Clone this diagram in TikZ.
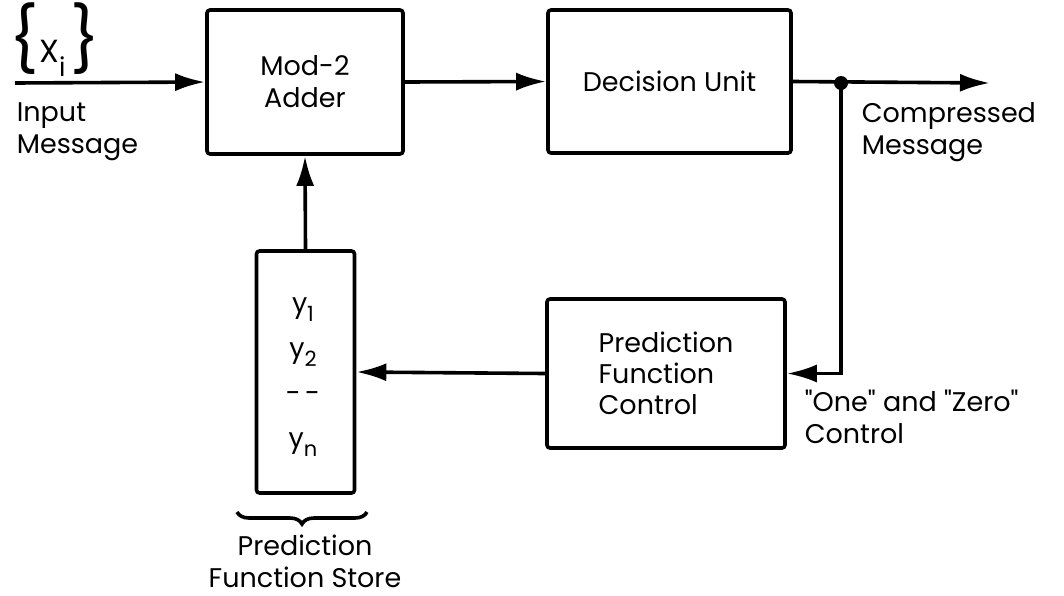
\documentclass[tikz,border=0pt]{standalone}
\usepackage{fontspec}
\setmainfont{Poppins}
\usepackage{tikz}
\usetikzlibrary{arrows.meta, positioning, calc, decorations.pathreplacing}

\newcommand{\lowsub}[1]{\raisebox{-4.5pt}{\fontsize{10.5}{10.5}\selectfont #1}}

\begin{document}
\begin{tikzpicture}[x=0.5pt, y=-0.5pt, line width=1.8pt,
    every node/.style={font=\fontsize{13.5}{16}\selectfont},
    block/.style={draw, line width=1.8pt, rounded corners=1.5pt, inner sep=0pt},
    flow/.style={-{Latex[length=15pt, width=9pt]}},
    lbl/.style={align=left, anchor=north west, inner sep=0pt}]
  \useasboundingbox (0,0) rectangle (1064,595);
  % boxes
  \node[block, minimum width=98pt, minimum height=72pt, align=center] (adder) at (305,82) {Mod-2\\Adder};
  \node[block, minimum width=121.5pt, minimum height=71.5pt] (decision) at (669.5,81.5) {Decision Unit};
  \node[block, minimum width=119pt, minimum height=74.5pt, align=left,
        font=\fontsize{13.5}{15.5}\selectfont] (pfc) at (666,373.5) {Prediction\\Function\\Control};
  \node[block, minimum width=49pt, minimum height=121pt] (store) at (305.5,372) {};
  \node[align=center, font=\fontsize{13.5}{22.5}\selectfont] (storetxt) at (303,377)
    {y\lowsub{1}\\y\lowsub{2}\\-\,-\\y\lowsub{n}};
  % end points
  \coordinate (in) at (15,83);
  \coordinate (out) at (990,83);
  \coordinate (tap) at (841,83);
  \fill (tap) circle (3.5pt);
  % connectors
  \draw[flow] (in) -- (adder.west);
  \draw[flow] (adder.east) -- (decision.west);
  \draw[flow] (decision.east) -- (out);
  \draw[flow] (tap) |- (pfc.east);
  \draw[flow] (pfc.west) -- (store.east);
  \draw[flow] (store.north) -- (adder.south);
  \draw[line width=1.8pt, decorate, decoration={brace, mirror, amplitude=6pt}]
    (237,512) -- (367,512);
  % labels
  \node[anchor=south west, inner sep=0pt] (xi) at (8,78)
    {{\fontsize{32}{32}\selectfont\{}\fontsize{16}{16}\selectfont X\raisebox{-7pt}{\fontsize{13}{13}\selectfont i}\,{\fontsize{32}{32}\selectfont\}}};
  \node[lbl] (inlbl) at (15,101) {Input\\Message};
  \node[lbl] (outlbl) at (860,101) {Compressed\\Message};
  \node[lbl] (ctllbl) at (803,388) {\textquotedbl One\textquotedbl{} and \textquotedbl Zero\textquotedbl\\Control};
  \node[align=center, anchor=north, inner sep=0pt] (storelbl) at (305,533) {Prediction\\Function Store};
\end{tikzpicture}
\end{document}
